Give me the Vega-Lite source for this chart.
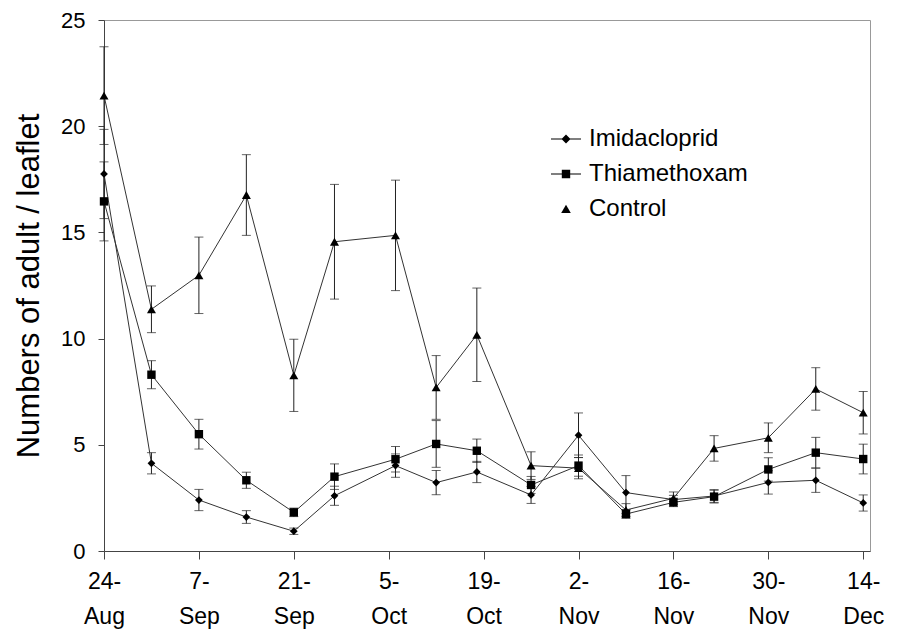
{
  "$schema": "https://vega.github.io/schema/vega-lite/v6.json",
  "width": 766,
  "height": 531,
  "autosize": "none",
  "padding": {"left": 104, "top": 20, "right": 38, "bottom": 84},
  "background": "white",
  "config": {
    "font": "Liberation Sans",
    "view": {"stroke": "#999", "strokeWidth": 1}
  },
  "data": {
    "values": [
      {"date": "2003-08-24", "series": "Imidacloprid", "mean": 17.75, "se": 2.1},
      {"date": "2003-08-31", "series": "Imidacloprid", "mean": 4.13, "se": 0.5},
      {"date": "2003-09-07", "series": "Imidacloprid", "mean": 2.4, "se": 0.5},
      {"date": "2003-09-14", "series": "Imidacloprid", "mean": 1.6, "se": 0.3},
      {"date": "2003-09-21", "series": "Imidacloprid", "mean": 0.93, "se": 0.15},
      {"date": "2003-09-27", "series": "Imidacloprid", "mean": 2.6, "se": 0.45},
      {"date": "2003-10-06", "series": "Imidacloprid", "mean": 4.02, "se": 0.55},
      {"date": "2003-10-12", "series": "Imidacloprid", "mean": 3.22, "se": 0.57},
      {"date": "2003-10-18", "series": "Imidacloprid", "mean": 3.72, "se": 0.5},
      {"date": "2003-10-26", "series": "Imidacloprid", "mean": 2.64, "se": 0.4},
      {"date": "2003-11-02", "series": "Imidacloprid", "mean": 5.45, "se": 1.05},
      {"date": "2003-11-09", "series": "Imidacloprid", "mean": 2.75, "se": 0.8},
      {"date": "2003-11-16", "series": "Imidacloprid", "mean": 2.42, "se": 0.2},
      {"date": "2003-11-22", "series": "Imidacloprid", "mean": 2.59, "se": 0.3},
      {"date": "2003-11-30", "series": "Imidacloprid", "mean": 3.23, "se": 0.55},
      {"date": "2003-12-07", "series": "Imidacloprid", "mean": 3.33, "se": 0.57},
      {"date": "2003-12-14", "series": "Imidacloprid", "mean": 2.26, "se": 0.38},
      {"date": "2003-08-24", "series": "Thiamethoxam", "mean": 16.46, "se": 1.86},
      {"date": "2003-08-31", "series": "Thiamethoxam", "mean": 8.3, "se": 0.66},
      {"date": "2003-09-07", "series": "Thiamethoxam", "mean": 5.5, "se": 0.7},
      {"date": "2003-09-14", "series": "Thiamethoxam", "mean": 3.33, "se": 0.38},
      {"date": "2003-09-21", "series": "Thiamethoxam", "mean": 1.82, "se": 0.2},
      {"date": "2003-09-27", "series": "Thiamethoxam", "mean": 3.5, "se": 0.6},
      {"date": "2003-10-06", "series": "Thiamethoxam", "mean": 4.32, "se": 0.6},
      {"date": "2003-10-12", "series": "Thiamethoxam", "mean": 5.04, "se": 1.1},
      {"date": "2003-10-18", "series": "Thiamethoxam", "mean": 4.72, "se": 0.55},
      {"date": "2003-10-26", "series": "Thiamethoxam", "mean": 3.11, "se": 0.4},
      {"date": "2003-11-02", "series": "Thiamethoxam", "mean": 4.02, "se": 0.5},
      {"date": "2003-11-09", "series": "Thiamethoxam", "mean": 1.74, "se": 0.2},
      {"date": "2003-11-16", "series": "Thiamethoxam", "mean": 2.29, "se": 0.2},
      {"date": "2003-11-22", "series": "Thiamethoxam", "mean": 2.56, "se": 0.3},
      {"date": "2003-11-30", "series": "Thiamethoxam", "mean": 3.84, "se": 0.55},
      {"date": "2003-12-07", "series": "Thiamethoxam", "mean": 4.63, "se": 0.72},
      {"date": "2003-12-14", "series": "Thiamethoxam", "mean": 4.33, "se": 0.7},
      {"date": "2003-08-24", "series": "Control", "mean": 21.44, "se": 2.3},
      {"date": "2003-08-31", "series": "Control", "mean": 11.38, "se": 1.1},
      {"date": "2003-09-07", "series": "Control", "mean": 12.98, "se": 1.8},
      {"date": "2003-09-14", "series": "Control", "mean": 16.76, "se": 1.9},
      {"date": "2003-09-21", "series": "Control", "mean": 8.27, "se": 1.7},
      {"date": "2003-09-27", "series": "Control", "mean": 14.56, "se": 2.7},
      {"date": "2003-10-06", "series": "Control", "mean": 14.86, "se": 2.6},
      {"date": "2003-10-12", "series": "Control", "mean": 7.7, "se": 1.5},
      {"date": "2003-10-18", "series": "Control", "mean": 10.18, "se": 2.2},
      {"date": "2003-10-26", "series": "Control", "mean": 4.02, "se": 0.65},
      {"date": "2003-11-02", "series": "Control", "mean": 3.9, "se": 0.5},
      {"date": "2003-11-09", "series": "Control", "mean": 1.93, "se": 0.3},
      {"date": "2003-11-16", "series": "Control", "mean": 2.48, "se": 0.3},
      {"date": "2003-11-22", "series": "Control", "mean": 4.83, "se": 0.6},
      {"date": "2003-11-30", "series": "Control", "mean": 5.33, "se": 0.7},
      {"date": "2003-12-07", "series": "Control", "mean": 7.63, "se": 1.0},
      {"date": "2003-12-14", "series": "Control", "mean": 6.51, "se": 1.0}
    ]
  },
  "encoding": {
    "x": {
      "field": "date",
      "type": "temporal",
      "scale": {
        "type": "utc",
        "nice": false,
        "domain": [
          {"year": 2003, "month": 8, "date": 24, "utc": true},
          {"year": 2003, "month": 12, "date": 15, "utc": true}
        ]
      },
      "axis": {
        "title": null,
        "grid": false,
        "values": [
          {"year": 2003, "month": 8, "date": 24, "utc": true},
          {"year": 2003, "month": 9, "date": 7, "utc": true},
          {"year": 2003, "month": 9, "date": 21, "utc": true},
          {"year": 2003, "month": 10, "date": 5, "utc": true},
          {"year": 2003, "month": 10, "date": 19, "utc": true},
          {"year": 2003, "month": 11, "date": 2, "utc": true},
          {"year": 2003, "month": 11, "date": 16, "utc": true},
          {"year": 2003, "month": 11, "date": 30, "utc": true},
          {"year": 2003, "month": 12, "date": 14, "utc": true}
        ],
        "labelExpr": "[utcFormat(datum.value, '%-d') + '-', utcFormat(datum.value, '%b')]",
        "labelFontSize": 23,
        "labelLineHeight": 35,
        "labelBaseline": "alphabetic",
        "labelPadding": 29,
        "labelAngle": 0,
        "labelFlush": false,
        "labelOverlap": false,
        "labelColor": "black",
        "tickSize": 8,
        "tickColor": "#444",
        "domainColor": "#444"
      }
    },
    "y": {
      "field": "mean",
      "type": "quantitative",
      "scale": {"domain": [0, 25], "nice": false},
      "axis": {
        "title": "Numbers of adult / leaflet",
        "titleFontSize": 31,
        "titleFontWeight": "normal",
        "titleColor": "black",
        "titlePadding": 15,
        "grid": false,
        "values": [0, 5, 10, 15, 20, 25],
        "labelFontSize": 22,
        "labelColor": "black",
        "labelPadding": 13,
        "tickSize": 6,
        "tickColor": "#444",
        "domainColor": "#444"
      }
    }
  },
  "layer": [
    {
      "mark": {
        "type": "errorbar",
        "ticks": {"size": 9, "thickness": 1, "color": "#222"},
        "rule": {"color": "#222", "strokeWidth": 1}
      },
      "encoding": {
        "yError": {"field": "se"}
      }
    },
    {
      "mark": {"type": "line", "color": "#333", "strokeWidth": 1},
      "encoding": {
        "detail": {"field": "series", "type": "nominal"}
      }
    },
    {
      "mark": {"type": "point", "filled": true, "opacity": 1, "color": "black"},
      "encoding": {
        "shape": {
          "field": "series",
          "type": "nominal",
          "scale": {
            "domain": ["Imidacloprid", "Thiamethoxam", "Control"],
            "range": ["diamond", "square", "triangle-up"]
          },
          "legend": null
        },
        "size": {
          "field": "series",
          "type": "nominal",
          "scale": {
            "domain": ["Imidacloprid", "Thiamethoxam", "Control"],
            "range": [60, 81, 100]
          },
          "legend": null
        }
      }
    },
    {
      "transform": [{"filter": "false"}],
      "mark": {"type": "point", "filled": true, "opacity": 1, "color": "black"},
      "encoding": {
        "shape": {
          "field": "series",
          "type": "nominal",
          "scale": {
            "domain": ["Imidacloprid", "Thiamethoxam", "Control"],
            "range": [
              "M-1,-0.04H1V0.04H-1ZM0,-0.3L0.3,0L0,0.3L-0.3,0Z",
              "M-1,-0.04H1V0.04H-1ZM-0.28,-0.28H0.28V0.28H-0.28Z",
              "M0,-0.28L0.32,0.26L-0.32,0.26Z"
            ]
          },
          "legend": {
            "orient": "none",
            "legendX": 446,
            "legendY": 103,
            "title": null,
            "symbolSize": 900,
            "symbolFillColor": "#111",
            "symbolOpacity": 1,
            "labelFontSize": 24,
            "labelColor": "black",
            "labelOffset": 7,
            "rowPadding": 7
          }
        }
      }
    }
  ],
  "resolve": {"scale": {"shape": "independent", "size": "independent"}}
}
